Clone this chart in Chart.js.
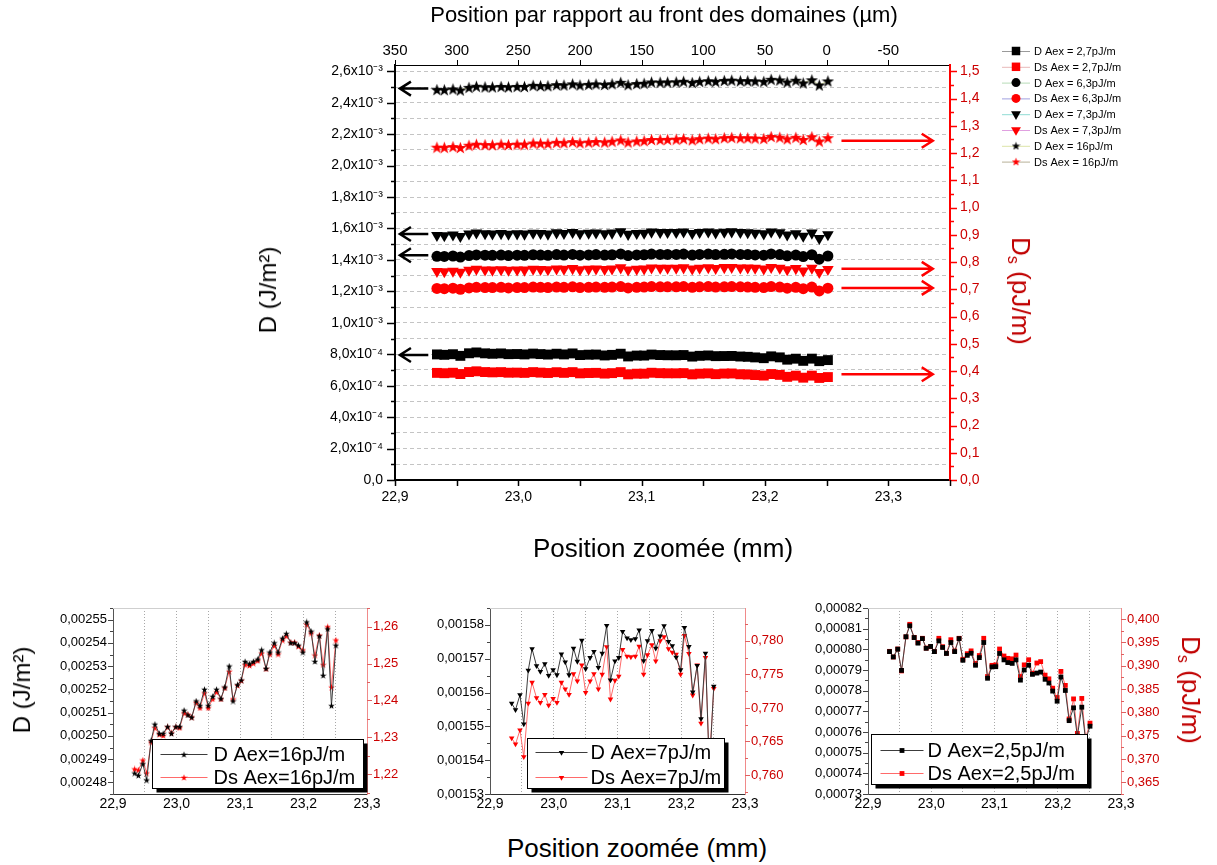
<!DOCTYPE html>
<html>
<head>
<meta charset="utf-8">
<script src="https://cdn.jsdelivr.net/npm/chart.js@4.4.1/dist/chart.umd.min.js"></script>
<style>
body { margin: 0; background: #fff; font-family: "Liberation Sans", Arial, sans-serif; }
#page { position: relative; width: 1217px; height: 865px; overflow: hidden; }
canvas { position: absolute; }
.t { position: absolute; white-space: nowrap; color: #000; }
.t sub { font-size: 62%; vertical-align: -0.25em; }
</style>
</head>
<body>
<div id="page">
<canvas id="main" width="1217" height="575" style="left:0px;top:0px"></canvas>
<canvas id="c1" width="420" height="230" style="left:0px;top:590px"></canvas>
<canvas id="c2" width="375" height="230" style="left:420px;top:590px"></canvas>
<canvas id="c3" width="422" height="230" style="left:795px;top:590px"></canvas>

<div class="t" style="left:664px;top:15px;font-size:22px;transform:translate(-50%,-50%)">Position par rapport au front des domaines (µm)</div>
<div class="t" style="left:663px;top:548px;font-size:26px;transform:translate(-50%,-50%)">Position zoomée (mm)</div>
<div class="t" style="left:268px;top:290px;font-size:24px;transform:translate(-50%,-50%) rotate(-90deg)">D (J/m²)</div>
<div class="t" style="left:1020px;top:291px;font-size:26px;color:#c00000;transform:translate(-50%,-50%) rotate(90deg)">D<sub>s</sub> (pJ/m)</div>
<div class="t" style="left:22px;top:690px;font-size:24px;transform:translate(-50%,-50%) rotate(-90deg)">D (J/m²)</div>
<div class="t" style="left:1190px;top:690px;font-size:26px;color:#c00000;transform:translate(-50%,-50%) rotate(90deg)">D<sub>s</sub> (pJ/m)</div>
<div class="t" style="left:637px;top:848px;font-size:26px;transform:translate(-50%,-50%)">Position zoomée (mm)</div>
</div>

<script>
// ---- data ----

// measurement positions (mm), shared by all series
const positions = [22.934, 22.940, 22.947, 22.953, 22.960, 22.966, 22.973, 22.979, 22.986, 22.992,
  22.999, 23.005, 23.012, 23.018, 23.024, 23.031, 23.037, 23.044, 23.050, 23.057,
  23.063, 23.070, 23.076, 23.083, 23.089, 23.096, 23.102, 23.108, 23.115, 23.121,
  23.128, 23.134, 23.141, 23.147, 23.154, 23.160, 23.167, 23.173, 23.180, 23.186,
  23.192, 23.199, 23.205, 23.212, 23.218, 23.225, 23.231, 23.238, 23.244, 23.251];

// D (J/m2) and Ds (pJ/m), Aex = 16 pJ/m
const d16 = [0.002484, 0.002483, 0.002488, 0.002481, 0.002498, 0.002505, 0.002501, 0.002501, 0.002504, 0.002501,
  0.002504, 0.002504, 0.002511, 0.002509, 0.002508, 0.002515, 0.002513, 0.002520, 0.002513, 0.002517,
  0.002520, 0.002516, 0.002521, 0.002530, 0.002515, 0.002522, 0.002524, 0.002532, 0.002531, 0.002532,
  0.002533, 0.002537, 0.002529, 0.002536, 0.002540, 0.002536, 0.002542, 0.002544, 0.002540, 0.002540,
  0.002539, 0.002536, 0.002549, 0.002545, 0.002532, 0.002543, 0.002526, 0.002546, 0.002513, 0.002539];
const ds16 = [1.2214, 1.2211, 1.2238, 1.2203, 1.2287, 1.2326, 1.2308, 1.2305, 1.2328, 1.2312,
  1.2328, 1.2326, 1.2366, 1.2362, 1.2355, 1.2394, 1.2380, 1.2420, 1.2380, 1.2404,
  1.2423, 1.2404, 1.2434, 1.2479, 1.2404, 1.2441, 1.2454, 1.2497, 1.2495, 1.2501,
  1.2508, 1.2528, 1.2486, 1.2526, 1.2549, 1.2526, 1.2564, 1.2575, 1.2558, 1.2558,
  1.2547, 1.2537, 1.2607, 1.2583, 1.2523, 1.2577, 1.2497, 1.2600, 1.2436, 1.2564];

// Aex = 7,3 pJ/m
const d7 = [0.0015568, 0.0015549, 0.0015593, 0.0015507, 0.0015666, 0.0015729, 0.0015679, 0.0015662, 0.0015685, 0.0015650,
  0.0015667, 0.0015652, 0.0015714, 0.0015690, 0.0015652, 0.0015731, 0.0015692, 0.0015754, 0.0015670, 0.0015703,
  0.0015721, 0.0015674, 0.0015716, 0.0015798, 0.0015637, 0.0015693, 0.0015703, 0.0015780, 0.0015761, 0.0015756,
  0.0015759, 0.0015785, 0.0015694, 0.0015753, 0.0015783, 0.0015731, 0.0015767, 0.0015797, 0.0015751, 0.0015738,
  0.0015704, 0.0015667, 0.0015792, 0.0015736, 0.0015601, 0.0015680, 0.0015522, 0.0015716, 0.0015370, 0.0015618];
const ds7 = [0.7655, 0.7646, 0.7667, 0.7627, 0.7707, 0.7738, 0.7715, 0.7708, 0.7720, 0.7704,
  0.7714, 0.7708, 0.7738, 0.7728, 0.7720, 0.7751, 0.7740, 0.7764, 0.7723, 0.7740,
  0.7751, 0.7728, 0.7750, 0.7791, 0.7713, 0.7741, 0.7747, 0.7787, 0.7777, 0.7776,
  0.7777, 0.7792, 0.7750, 0.7779, 0.7794, 0.7770, 0.7800, 0.7806, 0.7788, 0.7783,
  0.7780, 0.7750, 0.7808, 0.7781, 0.7719, 0.7764, 0.7677, 0.7775, 0.7618, 0.7729];

// Aex = 6,3 pJ/m (main plot only)
const d6 = [0.001423, 0.001422, 0.001425, 0.001418, 0.001428, 0.001432, 0.001430, 0.001429, 0.001431, 0.001428,
  0.001430, 0.001429, 0.001433, 0.001431, 0.001429, 0.001434, 0.001431, 0.001435, 0.001430, 0.001432,
  0.001434, 0.001431, 0.001433, 0.001438, 0.001428, 0.001432, 0.001433, 0.001437, 0.001435, 0.001435,
  0.001435, 0.001437, 0.001431, 0.001435, 0.001437, 0.001434, 0.001436, 0.001438, 0.001435, 0.001434,
  0.001432, 0.001430, 0.001438, 0.001434, 0.001426, 0.001431, 0.001421, 0.001433, 0.001405, 0.001425];
const ds6 = [0.703, 0.702, 0.704, 0.700, 0.705, 0.707, 0.706, 0.706, 0.707, 0.705,
  0.706, 0.706, 0.708, 0.707, 0.706, 0.708, 0.707, 0.709, 0.706, 0.707,
  0.708, 0.707, 0.708, 0.710, 0.705, 0.707, 0.708, 0.710, 0.709, 0.709,
  0.709, 0.710, 0.707, 0.709, 0.710, 0.708, 0.709, 0.710, 0.709, 0.708,
  0.707, 0.706, 0.710, 0.708, 0.704, 0.707, 0.702, 0.708, 0.694, 0.704];

// Aex = 2,7 pJ/m
const d2 = [0.0007989, 0.0007963, 0.0008001, 0.0007898, 0.0008061, 0.0008114, 0.0008057, 0.0008030, 0.0008052, 0.0008005,
  0.0008014, 0.0007989, 0.0008041, 0.0008009, 0.0007980, 0.0008033, 0.0007989, 0.0008052, 0.0007947, 0.0007971,
  0.0007981, 0.0007923, 0.0007960, 0.0008033, 0.0007860, 0.0007915, 0.0007916, 0.0007980, 0.0007949, 0.0007936,
  0.0007932, 0.0007949, 0.0007851, 0.0007900, 0.0007923, 0.0007879, 0.0007885, 0.0007890, 0.0007855, 0.0007837,
  0.0007798, 0.0007749, 0.0007866, 0.0007801, 0.0007655, 0.0007717, 0.0007580, 0.0007720, 0.0007560, 0.0007628];
const ds2 = [0.3931, 0.3919, 0.3936, 0.3889, 0.3962, 0.3989, 0.3961, 0.3950, 0.3959, 0.3938,
  0.3941, 0.3931, 0.3959, 0.3941, 0.3927, 0.3956, 0.3932, 0.3959, 0.3914, 0.3926,
  0.3932, 0.3905, 0.3922, 0.3959, 0.3877, 0.3901, 0.3902, 0.3936, 0.3921, 0.3916,
  0.3915, 0.3923, 0.3877, 0.3902, 0.3913, 0.3884, 0.3906, 0.3909, 0.3880, 0.3872,
  0.3852, 0.3832, 0.3888, 0.3858, 0.3786, 0.3829, 0.3755, 0.3830, 0.3745, 0.3777];

const mainLabels = ['D Aex = 2,7pJ/m', 'Ds Aex = 2,7pJ/m', 'D Aex = 6,3pJ/m', 'Ds Aex = 6,3pJ/m',
  'D Aex = 7,3pJ/m', 'Ds Aex = 7,3pJ/m', 'D Aex = 16pJ/m', 'Ds Aex = 16pJ/m'];

// levels pointed at by the arrows
const arrowLeftLevels = [0.00249, 0.001565, 0.00143, 0.000795];
const arrowRightLevels = [1.245, 0.775, 0.705, 0.388];

// tick labels
const xTickValues = [22.9, 23.0, 23.1, 23.2, 23.3];
const xTickLabels = ['22,9', '23,0', '23,1', '23,2', '23,3'];
const topTickValues = [350, 300, 250, 200, 150, 100, 50, 0, -50];
const topTickLabels = ['350', '300', '250', '200', '150', '100', '50', '0', '-50'];
const leftTickValues = [0, 0.0002, 0.0004, 0.0006, 0.0008, 0.0010, 0.0012, 0.0014, 0.0016, 0.0018, 0.0020, 0.0022, 0.0024, 0.0026];
const leftTickLabels = ['0,0', '2,0x10⁻⁴', '4,0x10⁻⁴', '6,0x10⁻⁴', '8,0x10⁻⁴', '1,0x10⁻³', '1,2x10⁻³', '1,4x10⁻³',
  '1,6x10⁻³', '1,8x10⁻³', '2,0x10⁻³', '2,2x10⁻³', '2,4x10⁻³', '2,6x10⁻³'];
const rightTickValues = [0, 0.1, 0.2, 0.3, 0.4, 0.5, 0.6, 0.7, 0.8, 0.9, 1.0, 1.1, 1.2, 1.3, 1.4, 1.5];
const rightTickLabels = ['0,0', '0,1', '0,2', '0,3', '0,4', '0,5', '0,6', '0,7', '0,8', '0,9', '1,0', '1,1', '1,2', '1,3', '1,4', '1,5'];

const c1LeftValues = [0.00248, 0.00249, 0.00250, 0.00251, 0.00252, 0.00253, 0.00254, 0.00255];
const c1LeftLabels = ['0,00248', '0,00249', '0,00250', '0,00251', '0,00252', '0,00253', '0,00254', '0,00255'];
const c1RightValues = [1.22, 1.23, 1.24, 1.25, 1.26];
const c1RightLabels = ['1,22', '1,23', '1,24', '1,25', '1,26'];
const c2LeftValues = [0.00153, 0.00154, 0.00155, 0.00156, 0.00157, 0.00158];
const c2LeftLabels = ['0,00153', '0,00154', '0,00155', '0,00156', '0,00157', '0,00158'];
const c2RightValues = [0.760, 0.765, 0.770, 0.775, 0.780, 0.785];
const c2RightLabels = ['0,760', '0,765', '0,770', '0,775', '0,780', '0,785'];
const c3LeftValues = [0.00073, 0.00074, 0.00075, 0.00076, 0.00077, 0.00078, 0.00079, 0.00080, 0.00081, 0.00082];
const c3LeftLabels = ['0,00073', '0,00074', '0,00075', '0,00076', '0,00077', '0,00078', '0,00079', '0,00080', '0,00081', '0,00082'];
const c3RightValues = [0.365, 0.370, 0.375, 0.380, 0.385, 0.390, 0.395, 0.400];
const c3RightLabels = ['0,365', '0,370', '0,375', '0,380', '0,385', '0,390', '0,395', '0,400'];

// ---- helpers ----
const FONT = '"Liberation Sans", Arial, sans-serif';
Chart.defaults.font.family = FONT;

function pick(values, labels, v) {
	const tol = Math.abs(values[1] - values[0]) * 1e-3;
	for (let i = 0; i < values.length; i++) {
		if (Math.abs(v - values[i]) < tol) return labels[i];
	}
	return '';
}

function pts(arr) {
	return positions.map((x, i) => ({ x: x, y: arr[i] }));
}

// filled five point star as an image marker
function starImage(size, color) {
	const c = document.createElement('canvas');
	c.width = size;
	c.height = size;
	const g = c.getContext('2d');
	g.fillStyle = color;
	g.beginPath();
	for (let i = 0; i < 10; i++) {
		const r = i % 2 === 0 ? size / 2 : size * 0.2;
		const a = -Math.PI / 2 + i * Math.PI / 5;
		g.lineTo(size / 2 + r * Math.cos(a), size / 2 + size * 0.05 + r * Math.sin(a));
	}
	g.closePath();
	g.fill();
	return c;
}

function drawMarker(ctx, style, rot, r, x, y) {
	if (typeof style === 'object') {
		ctx.drawImage(style, x - style.width / 2, y - style.height / 2);
		return;
	}
	ctx.beginPath();
	if (style === 'rect') {
		const s = r * Math.SQRT1_2;
		ctx.rect(x - s, y - s, 2 * s, 2 * s);
	} else if (style === 'circle') {
		ctx.arc(x, y, r, 0, Math.PI * 2);
	} else if (style === 'triangle') {
		const dir = rot === 180 ? 1 : -1;
		ctx.moveTo(x, y + dir * r);
		ctx.lineTo(x - r * 0.866, y - dir * r * 0.5);
		ctx.lineTo(x + r * 0.866, y - dir * r * 0.5);
		ctx.closePath();
	}
	ctx.fill();
}

// outside tick marks, long where the tick has a label
const axisTicks = {
	id: 'axisTicks',
	afterDraw(chart, args, opts) {
		const ctx = chart.ctx;
		(opts.axes || []).forEach(a => {
			const s = chart.scales[a.id];
			ctx.save();
			ctx.strokeStyle = a.color;
			ctx.lineWidth = a.width || 1;
			s.ticks.forEach(t => {
				const len = t.label !== '' ? a.major : a.minor;
				if (!len) return;
				const p = Math.round(s.getPixelForValue(t.value)) + 0.5;
				ctx.beginPath();
				if (s.position === 'left') { ctx.moveTo(s.right, p); ctx.lineTo(s.right - len, p); }
				if (s.position === 'right') { ctx.moveTo(s.left, p); ctx.lineTo(s.left + len, p); }
				if (s.position === 'bottom') { ctx.moveTo(p, s.top); ctx.lineTo(p, s.top + len); }
				if (s.position === 'top') { ctx.moveTo(p, s.bottom); ctx.lineTo(p, s.bottom - len); }
				ctx.stroke();
			});
			ctx.restore();
		});
	}
};

// arrows telling which axis a series belongs to
const arrows = {
	id: 'arrows',
	afterDatasetsDraw(chart, args, opts) {
		const ctx = chart.ctx;
		const x = chart.scales.x;
		const draw = (levels, scale, from, to, color) => {
			const x1 = x.getPixelForValue(from);
			const x2 = x.getPixelForValue(to);
			const dir = x2 > x1 ? -1 : 1;
			ctx.strokeStyle = color;
			ctx.lineWidth = 2.5;
			levels.forEach(v => {
				const y = scale.getPixelForValue(v);
				ctx.beginPath();
				ctx.moveTo(x1, y);
				ctx.lineTo(x2, y);
				ctx.moveTo(x2 + dir * 11, y - 7);
				ctx.lineTo(x2, y);
				ctx.lineTo(x2 + dir * 11, y + 7);
				ctx.stroke();
			});
		};
		ctx.save();
		draw(arrowLeftLevels, chart.scales.y, 22.927, 22.904, '#000');
		draw(arrowRightLevels, chart.scales.y2, 23.262, 23.336, '#ff0000');
		ctx.restore();
	}
};

// legend of the big plot: short line, marker, text
const mainLegend = {
	id: 'mainLegend',
	afterDraw(chart, args, o) {
		const ctx = chart.ctx;
		ctx.save();
		chart.data.datasets.forEach((ds, i) => {
			const y = o.top + i * o.step;
			ctx.strokeStyle = ds.borderColor;
			ctx.lineWidth = 1;
			ctx.beginPath();
			ctx.moveTo(o.left, y + 0.5);
			ctx.lineTo(o.left + 28, y + 0.5);
			ctx.stroke();
			ctx.fillStyle = ds.pointBackgroundColor;
			drawMarker(ctx, ds.legendStyle, ds.pointRotation, ds.pointRadius - 1, o.left + 14, y);
			ctx.fillStyle = '#000';
			ctx.font = '11px ' + FONT;
			ctx.textBaseline = 'middle';
			ctx.fillText(ds.label, o.left + 32, y + 1);
		});
		ctx.restore();
	}
};

// boxed legend with shadow for the small plots
const boxLegend = {
	id: 'boxLegend',
	afterDraw(chart, args, o) {
		const ctx = chart.ctx;
		const a = chart.chartArea;
		const x = Math.round(a.left + o.dx) + 0.5;
		const y = Math.round(a.bottom - o.dy - o.h) + 0.5;
		ctx.save();
		ctx.fillStyle = '#000';
		ctx.fillRect(x + 4, y + 4, o.w, o.h);
		ctx.fillStyle = '#fff';
		ctx.fillRect(x, y, o.w, o.h);
		ctx.strokeStyle = '#000';
		ctx.lineWidth = 1;
		ctx.strokeRect(x, y, o.w, o.h);
		chart.data.datasets.forEach((ds, i) => {
			const ry = Math.round(y + o.rows[i]) + 0.5;
			ctx.strokeStyle = ds.borderColor;
			ctx.beginPath();
			ctx.moveTo(x + o.line[0], ry);
			ctx.lineTo(x + o.line[1], ry);
			ctx.stroke();
			ctx.fillStyle = ds.pointBackgroundColor;
			drawMarker(ctx, ds.pointStyle, ds.pointRotation, ds.pointRadius, x + (o.line[0] + o.line[1]) / 2, ry);
			ctx.fillStyle = '#000';
			ctx.font = '20px ' + FONT;
			ctx.textBaseline = 'middle';
			ctx.fillText(ds.label, x + o.text, ry + 1);
		});
		ctx.restore();
	}
};

// light line closing the top of the small plots
const frameTop = {
	id: 'frameTop',
	beforeDatasetsDraw(chart) {
		const ctx = chart.ctx;
		const a = chart.chartArea;
		ctx.save();
		ctx.strokeStyle = '#cfcfcf';
		ctx.lineWidth = 1;
		ctx.beginPath();
		ctx.moveTo(a.left, a.top + 0.5);
		ctx.lineTo(a.right, a.top + 0.5);
		ctx.stroke();
		ctx.restore();
	}
};

// ---- main plot ----
const starBig = starImage(13, '#000');
const starBigRed = starImage(13, '#ff0000');
const starLeg = starImage(9, '#000');
const starLegRed = starImage(9, '#ff0000');

const mainSeries = [
	{ data: d2, axis: 'y', color: '#000', style: 'rect', r: 7, line: '#9a9a9a' },
	{ data: ds2, axis: 'y2', color: '#ff0000', style: 'rect', r: 7, line: '#e8b8b8' },
	{ data: d6, axis: 'y', color: '#000', style: 'circle', r: 5.5, line: '#b8dcb8' },
	{ data: ds6, axis: 'y2', color: '#ff0000', style: 'circle', r: 5.5, line: '#a0a0e0' },
	{ data: d7, axis: 'y', color: '#000', style: 'triangle', rot: 180, r: 6.7, line: '#90dcd4' },
	{ data: ds7, axis: 'y2', color: '#ff0000', style: 'triangle', rot: 180, r: 6.7, line: '#e0a0e0' },
	{ data: d16, axis: 'y', color: '#000', style: starBig, leg: starLeg, r: 6, line: '#dce4a8' },
	{ data: ds16, axis: 'y2', color: '#ff0000', style: starBigRed, leg: starLegRed, r: 6, line: '#b8b098' }
];

new Chart(document.getElementById('main'), {
	type: 'scatter',
	data: {
		datasets: mainSeries.map((s, i) => ({
			label: mainLabels[i],
			data: pts(s.data),
			xAxisID: 'x',
			yAxisID: s.axis,
			showLine: true,
			borderColor: s.line,
			borderWidth: 1,
			pointStyle: s.style,
			legendStyle: s.leg || s.style,
			pointRotation: s.rot || 0,
			pointRadius: s.r,
			pointBackgroundColor: s.color,
			pointBorderColor: s.color,
			pointBorderWidth: 0
		}))
	},
	options: {
		responsive: false,
		animation: false,
		layout: { padding: 0 },
		plugins: {
			legend: { display: false },
			tooltip: { enabled: false },
			mainLegend: { left: 1002, top: 51, step: 15.8 },
			axisTicks: {
				axes: [
					{ id: 'y', major: 8, minor: 4, color: '#000', width: 1.5 },
					{ id: 'y2', major: 7, minor: 4, color: '#ff0000', width: 1.5 },
					{ id: 'x', major: 6, minor: 6, color: '#000', width: 1.5 },
					{ id: 'xTop', major: 5, minor: 0, color: '#000', width: 1 }
				]
			}
		},
		scales: {
			x: {
				type: 'linear', position: 'bottom', min: 22.9, max: 23.35,
				afterFit: s => { s.height = 95; },
				ticks: {
					stepSize: 0.05, includeBounds: false, autoSkip: false, maxRotation: 0, padding: 9,
					color: '#000', font: { size: 14 },
					callback: v => pick(xTickValues, xTickLabels, v)
				},
				grid: { drawOnChartArea: false, drawTicks: false },
				border: { color: '#000', width: 2 }
			},
			xTop: {
				type: 'linear', position: 'top', min: -100, max: 350, reverse: true,
				afterFit: s => { s.height = 65; },
				ticks: {
					stepSize: 50, includeBounds: false, autoSkip: false, maxRotation: 0, padding: 5,
					color: '#000', font: { size: 15 },
					callback: v => pick(topTickValues, topTickLabels, v)
				},
				grid: { drawOnChartArea: false, drawTicks: false },
				border: { color: '#000', width: 1 }
			},
			y: {
				type: 'linear', position: 'left', min: 0, max: 0.00264,
				afterFit: s => { s.width = 395; },
				ticks: {
					stepSize: 0.0001, includeBounds: false, autoSkip: false, padding: 12,
					color: '#000', font: { size: 14 },
					callback: v => pick(leftTickValues, leftTickLabels, v)
				},
				grid: {
					drawTicks: false,
					color: c => (c.tick && c.tick.value === 0 ? 'rgba(0,0,0,0)' : '#c4c4c4')
				},
				border: { color: '#000', width: 2, dash: [4, 3] }
			},
			y2: {
				type: 'linear', position: 'right', min: 0, max: 1.523,
				afterFit: s => { s.width = 267; },
				ticks: {
					stepSize: 0.05, includeBounds: false, autoSkip: false, padding: 10,
					color: '#cc0000', font: { size: 14 },
					callback: v => pick(rightTickValues, rightTickLabels, v)
				},
				grid: { drawOnChartArea: false, drawTicks: false },
				border: { color: '#ff0000', width: 2 }
			}
		}
	},
	plugins: [axisTicks, arrows, mainLegend]
});

// ---- three zoomed plots ----
const starSmall = starImage(7, '#000');
const starSmallRed = starImage(7, '#ff0000');

function smallChart(id, s) {
	return new Chart(document.getElementById(id), {
		type: 'scatter',
		data: {
			datasets: [
				{
					label: s.labels[0], data: pts(s.d), yAxisID: 'y', showLine: true,
					borderColor: '#3c3c3c', borderWidth: 1,
					pointStyle: s.style[0], pointRotation: s.rot, pointRadius: s.r,
					pointBackgroundColor: '#000', pointBorderColor: '#000', pointBorderWidth: 0
				},
				{
					label: s.labels[1], data: pts(s.ds), yAxisID: 'y2', showLine: true,
					borderColor: '#ff6a6a', borderWidth: 1,
					pointStyle: s.style[1], pointRotation: s.rot, pointRadius: s.r,
					pointBackgroundColor: '#ff0000', pointBorderColor: '#ff0000', pointBorderWidth: 0
				}
			]
		},
		options: {
			responsive: false,
			animation: false,
			layout: { padding: { top: 18 } },
			plugins: {
				legend: { display: false },
				tooltip: { enabled: false },
				boxLegend: s.legend,
				axisTicks: {
					axes: [
						{ id: 'y', major: 5, minor: 3, color: '#444' },
						{ id: 'y2', major: 5, minor: 3, color: '#e06060' }
					]
				}
			},
			scales: {
				x: {
					type: 'linear', position: 'bottom', min: 22.9, max: 23.3,
					afterFit: sc => { sc.height = 26; },
					ticks: {
						stepSize: 0.05, includeBounds: false, autoSkip: false, maxRotation: 0, padding: 2,
						color: '#000', font: { size: 14 },
						callback: v => pick(xTickValues, xTickLabels, v)
					},
					grid: {
						drawTicks: false,
						color: c => (c.tick && (c.tick.value < 22.91 || c.tick.value > 23.29) ? 'rgba(0,0,0,0)' : '#a8a8a8')
					},
					border: { color: '#333', width: 1, dash: [1, 2] }
				},
				y: {
					type: 'linear', position: 'left', min: s.yMin, max: s.yMax,
					afterFit: sc => { sc.width = s.leftW; },
					ticks: {
						stepSize: 0.000005, includeBounds: false, autoSkip: false, padding: 6,
						color: '#000', font: { size: 13 },
						callback: v => pick(s.leftValues, s.leftLabels, v)
					},
					grid: { drawOnChartArea: false, drawTicks: false },
					border: { color: '#555', width: 1 }
				},
				y2: {
					type: 'linear', position: 'right', min: s.y2Min, max: s.y2Max,
					afterFit: sc => { sc.width = s.rightW; },
					ticks: {
						stepSize: s.y2Step, includeBounds: false, autoSkip: false, padding: 6,
						color: '#cc0000', font: { size: 13 },
						callback: v => pick(s.rightValues, s.rightLabels, v)
					},
					grid: { drawOnChartArea: false, drawTicks: false },
					border: { color: '#f08a8a', width: 1 }
				}
			}
		},
		plugins: [frameTop, axisTicks, boxLegend]
	});
}

smallChart('c1', {
	d: d16, ds: ds16, labels: ['D Aex=16pJ/m', 'Ds Aex=16pJ/m'],
	style: [starSmall, starSmallRed], rot: 0, r: 3,
	yMin: 0.002475, yMax: 0.002555, y2Min: 1.2146, y2Max: 1.2651, y2Step: 0.005,
	leftValues: c1LeftValues, leftLabels: c1LeftLabels, rightValues: c1RightValues, rightLabels: c1RightLabels,
	leftW: 113, rightW: 53,
	legend: { dx: 39, dy: 6, w: 211, h: 49, rows: [14, 37], line: [8, 55], text: 61 }
});

smallChart('c2', {
	d: d7, ds: ds7, labels: ['D Aex=7pJ/m', 'Ds Aex=7pJ/m'],
	style: ['triangle', 'triangle'], rot: 180, r: 3.2,
	yMin: 0.00153, yMax: 0.001585, y2Min: 0.75717, y2Max: 0.7849, y2Step: 0.0025,
	leftValues: c2LeftValues, leftLabels: c2LeftLabels, rightValues: c2RightValues, rightLabels: c2RightLabels,
	leftW: 70, rightW: 50,
	legend: { dx: 37, dy: 6, w: 197, h: 50, rows: [13, 38], line: [8, 60], text: 63 }
});

smallChart('c3', {
	d: d2, ds: ds2, labels: ['D Aex=2,5pJ/m', 'Ds Aex=2,5pJ/m'],
	style: ['rect', 'rect'], rot: 0, r: 3.4,
	yMin: 0.00073, yMax: 0.00082, y2Min: 0.3625, y2Max: 0.4024, y2Step: 0.0025,
	leftValues: c3LeftValues, leftLabels: c3LeftLabels, rightValues: c3RightValues, rightLabels: c3RightLabels,
	leftW: 73, rightW: 96,
	legend: { dx: 3, dy: 10, w: 216, h: 50, rows: [15, 38], line: [9, 52], text: 56 }
});
</script>
</body>
</html>
